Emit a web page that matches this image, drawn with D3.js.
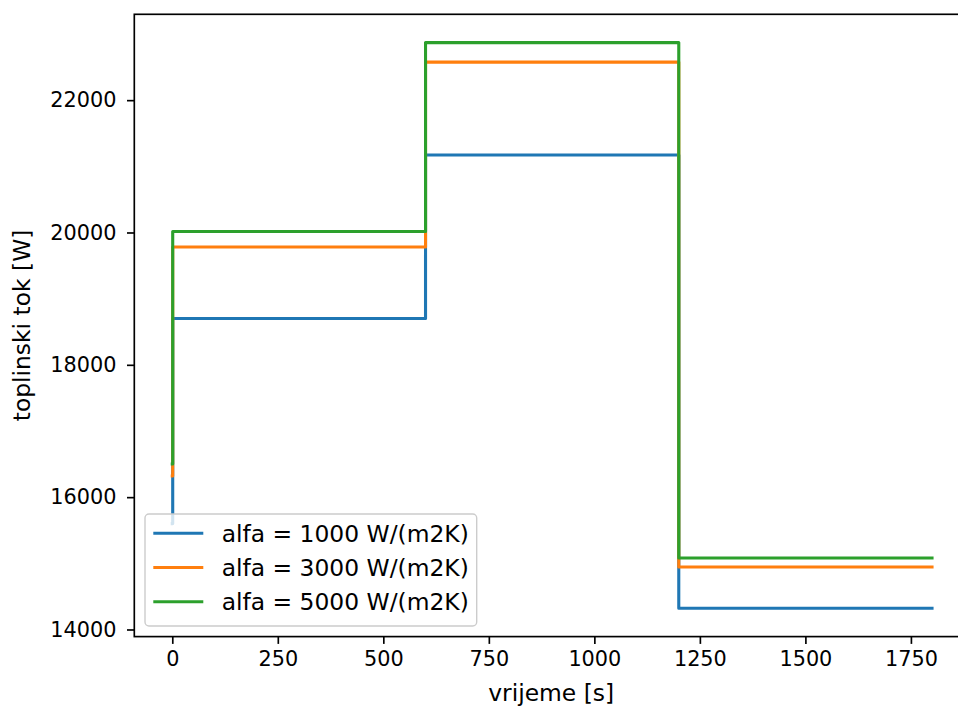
<!DOCTYPE html>
<html><head><meta charset="utf-8">
<script src="https://cdn.jsdelivr.net/npm/d3@7"></script>
<style>body{margin:0;background:#fff}svg{display:block}text{font-family:"DejaVu Sans",sans-serif;fill:#000}</style>
</head><body><svg id="c" width="958" height="709"></svg>
<script>
const seriesNames = ["alfa = 1000 W/(m2K)", "alfa = 3000 W/(m2K)", "alfa = 5000 W/(m2K)"];
const colors = ["#1f77b4", "#ff7f0e", "#2ca02c"];
const times = [0, 1, 600, 1200, 1800];
const blue   = [15600, 18700, 21170, 14320, 14320];
const orange = [16320, 19780, 22575, 14945, 14945];
const green  = [16500, 20015, 22870, 15080, 15080];
const xTicks = [0, 250, 500, 750, 1000, 1250, 1500, 1750];
const yTicks = [14000, 16000, 18000, 20000, 22000];
const xLabel = "vrijeme [s]";
const yLabel = "toplinski tok [W]";

function steps(vals){
  const pts=[];
  for(let i=0;i<times.length;i++){
    if(i>0) pts.push([times[i], vals[i-1]]);
    pts.push([times[i], vals[i]]);
  }
  return pts;
}
const allSeries=[blue,orange,green].map(steps);

const svg=d3.select("#c");
const L=134.3, R=970, T=14.3, B=636.6;
const allY=[].concat(blue,orange,green);
const yMin=d3.min(allY), yMax=d3.max(allY), pad=(yMax-yMin)*0.05;
const xMin=0, xMax=1800, xpad=(xMax-xMin)*0.05;
const x=d3.scaleLinear().domain([xMin-xpad,xMax+xpad]).range([L,R]);
const y=d3.scaleLinear().domain([yMin-pad,yMax+pad]).range([B,T]);

svg.append("defs").append("clipPath").attr("id","clip").append("rect")
  .attr("x",L).attr("y",T).attr("width",R-L).attr("height",B-T);

const line=d3.line().x(d=>x(d[0])).y(d=>y(d[1]));
svg.append("g").attr("clip-path","url(#clip)").selectAll("path").data(allSeries).join("path")
  .attr("d",line).attr("fill","none").attr("stroke",(d,i)=>colors[i])
  .attr("stroke-width",3.1).attr("stroke-linejoin","round").attr("stroke-linecap","square");

const fs=20.8, fl=23.4;
const xa=svg.append("g").attr("transform",`translate(0,${B})`)
  .call(d3.axisBottom(x).tickValues(xTicks).tickFormat(d3.format("d")).tickSizeOuter(0).tickSize(7.3).tickPadding(7.3));
const ya=svg.append("g").attr("transform",`translate(${L},0)`)
  .call(d3.axisLeft(y).tickValues(yTicks).tickFormat(d3.format("d")).tickSizeOuter(0).tickSize(7.3).tickPadding(10.5));
[xa,ya].forEach(a=>{
  a.select(".domain").remove();
  a.selectAll(".tick line").attr("stroke","#000").attr("stroke-width",1.67);
  a.selectAll(".tick text").style("font-size",fs+"px").style("font-family","DejaVu Sans");
});
svg.append("rect").attr("x",L).attr("y",T).attr("width",R-L).attr("height",B-T)
  .attr("fill","none").attr("stroke","#000").attr("stroke-width",1.67);

svg.append("text").attr("x",(L+R)/2 - 1).attr("y",700.5).attr("text-anchor","middle")
  .style("font-size",fl+"px").text(xLabel);
svg.append("text").attr("transform",`translate(30,${(T+B)/2}) rotate(-90)`).attr("text-anchor","middle")
  .style("font-size",fl+"px").text(yLabel);

const lg=svg.append("g");
lg.append("rect").attr("x",145).attr("y",514).attr("width",331.7).attr("height",112).attr("rx",4)
  .attr("fill","#fff").attr("fill-opacity",0.8).attr("stroke","#cccccc").attr("stroke-width",1.4);
seriesNames.forEach((n,i)=>{
  const cy=533.3+i*34.2;
  lg.append("line").attr("x1",153.3).attr("x2",203.3).attr("y1",cy).attr("y2",cy)
    .attr("stroke",colors[i]).attr("stroke-width",3.1);
  lg.append("text").attr("x",221.7).attr("y",cy).attr("dy","0.36em").style("font-size",fl+"px").text(n);
});
</script></body></html>
